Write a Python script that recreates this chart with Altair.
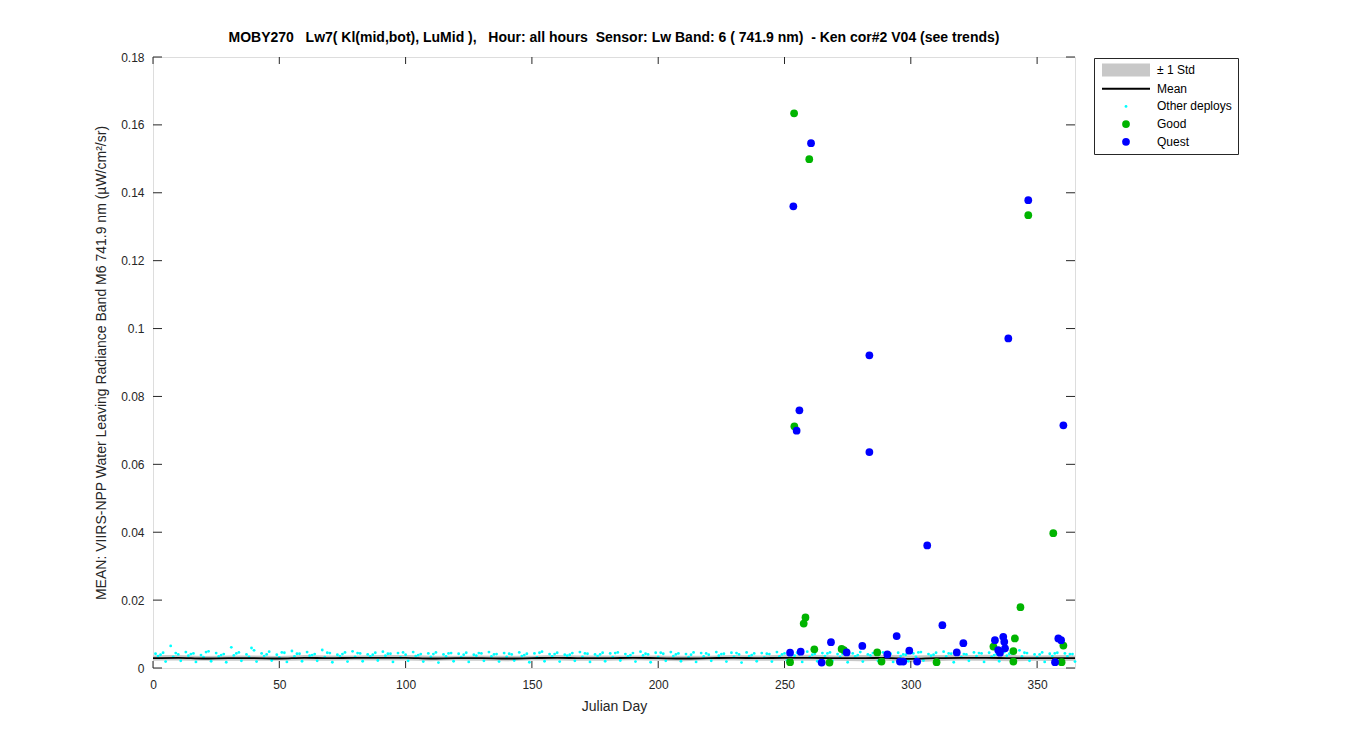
import altair as alt
import pandas as pd

# ---------------- data ----------------
title_text = ("MOBY270\u00a0\u00a0 Lw7( Kl(mid,bot), LuMid ),\u00a0\u00a0 Hour: all hours\u00a0 "
              "Sensor: Lw Band: 6 ( 741.9 nm)\u00a0 - Ken cor#2 V04 (see trends)")
y_title = "MEAN: VIIRS-NPP Water Leaving Radiance Band M6 741.9 nm (\u00b5W/cm\u00b2/sr)"
x_title = "Julian Day"

series_names = ["\u00b1 1 Std", "Mean", "Other deploys", "Good", "Quest"]
series_colors = ["#c8c8c8", "#000000", "#00ffff", "#00b400", "#0000ff"]

x_ticks = [0, 50, 100, 150, 200, 250, 300, 350]
y_ticks = [0, 0.02, 0.04, 0.06, 0.08, 0.1, 0.12, 0.14, 0.16, 0.18]

mean_days = [0, 10, 20, 30, 40, 50, 60, 70, 80, 90, 100, 110, 120, 130, 140, 150, 160, 170, 180,
             190, 200, 210, 220, 230, 240, 250, 260, 270, 280, 290, 300, 310, 320, 330, 340, 350,
             360, 365]
mean_vals = [0.0029, 0.0030, 0.0028, 0.0029, 0.0029, 0.0028, 0.0030, 0.0029, 0.0030, 0.0030,
             0.0030, 0.0028, 0.0029, 0.0029, 0.0028, 0.0029, 0.0030, 0.0029, 0.0029, 0.0030,
             0.0029, 0.0028, 0.0029, 0.0030, 0.0029, 0.0030, 0.0030, 0.0029, 0.0029, 0.0030,
             0.0027, 0.0029, 0.0030, 0.0030, 0.0029, 0.0029, 0.0029, 0.0029]
std_vals = [0.0008, 0.0008, 0.0007, 0.0008, 0.0008, 0.0007, 0.0008, 0.0008, 0.0007, 0.0008,
            0.0008, 0.0008, 0.0007, 0.0008, 0.0008, 0.0007, 0.0008, 0.0008, 0.0008, 0.0007,
            0.0008, 0.0008, 0.0007, 0.0008, 0.0008, 0.0009, 0.0009, 0.0008, 0.0009, 0.0009,
            0.0010, 0.0009, 0.0008, 0.0009, 0.0009, 0.0008, 0.0009, 0.0008]

other_days_upper = [1, 4, 7, 10, 13, 16, 19, 22, 25, 28, 31, 34, 37, 40, 43, 46, 49, 52, 55, 58,
                    61, 64, 67, 70, 73, 76, 79, 82, 85, 88, 91, 94, 97, 100, 103, 106, 109, 112,
                    115, 118, 121, 124, 127, 130, 133, 136, 139, 142, 145, 148, 151, 154, 157, 160,
                    163, 166, 169, 172, 175, 178, 181, 184, 187, 190, 193, 196, 199, 202, 205, 208,
                    211, 214, 217, 220, 223, 226, 229, 232, 235, 238, 241, 244, 247, 250, 253, 256,
                    259, 262, 265, 268, 271, 274, 277, 280, 283, 286, 289, 292, 295, 298, 301, 304,
                    307, 310, 313, 316, 319, 322, 325, 328, 331, 334, 337, 340, 343, 346, 349, 352,
                    355, 358, 361, 364]
other_vals_upper = [0.0042, 0.0045, 0.0065, 0.0040, 0.0047, 0.0043, 0.0038, 0.0049, 0.0044, 0.0041,
                    0.0061, 0.0046, 0.0040, 0.0052, 0.0043, 0.0048, 0.0039, 0.0045, 0.0050, 0.0042,
                    0.0047, 0.0041, 0.0053, 0.0044, 0.0039, 0.0046, 0.0049, 0.0043, 0.0040, 0.0045,
                    0.0048, 0.0042, 0.0044, 0.0039, 0.0047, 0.0041, 0.0043, 0.0046, 0.0040, 0.0044,
                    0.0042, 0.0045, 0.0039, 0.0043, 0.0047, 0.0041, 0.0044, 0.0040, 0.0046, 0.0042,
                    0.0043, 0.0048, 0.0041, 0.0045, 0.0039, 0.0044, 0.0047, 0.0042, 0.0040, 0.0045,
                    0.0043, 0.0046, 0.0041, 0.0044, 0.0048, 0.0040, 0.0045, 0.0042, 0.0047, 0.0043,
                    0.0041, 0.0046, 0.0044, 0.0039, 0.0047, 0.0042, 0.0045, 0.0040, 0.0046, 0.0043,
                    0.0044, 0.0041, 0.0047, 0.0043, 0.0045, 0.0040, 0.0048, 0.0042, 0.0044, 0.0046,
                    0.0041, 0.0045, 0.0043, 0.0047, 0.0040, 0.0044, 0.0046, 0.0042, 0.0045, 0.0039,
                    0.0043, 0.0047, 0.0041, 0.0045, 0.0048, 0.0042, 0.0044, 0.0040, 0.0046, 0.0043,
                    0.0045, 0.0041, 0.0047, 0.0043, 0.0052, 0.0044, 0.0040, 0.0046, 0.0042, 0.0045,
                    0.0043, 0.0041]

other_days_upper2 = [3, 9, 15, 21, 27, 33, 39, 45, 51, 57, 63, 69, 75, 81, 87, 93, 99, 105, 111,
                     117, 123, 129, 135, 141, 147, 153, 159, 165, 171, 177, 183, 189, 195, 201, 207,
                     213, 219, 225, 231, 237, 243, 249, 255, 261, 267, 273, 279, 285, 291, 297, 303,
                     309, 315, 321, 327, 333, 339, 345, 351, 357, 363]
other_vals_upper2 = [0.0039, 0.0044, 0.0041, 0.0047, 0.0038, 0.0043, 0.0059, 0.0040, 0.0046, 0.0042,
                     0.0038, 0.0045, 0.0041, 0.0044, 0.0039, 0.0042, 0.0046, 0.0038, 0.0041, 0.0043,
                     0.0039, 0.0044, 0.0040, 0.0042, 0.0038, 0.0045, 0.0041, 0.0039, 0.0043, 0.0040,
                     0.0044, 0.0038, 0.0042, 0.0045, 0.0040, 0.0039, 0.0043, 0.0041, 0.0044, 0.0038,
                     0.0042, 0.0040, 0.0045, 0.0039, 0.0043, 0.0041, 0.0038, 0.0044, 0.0042, 0.0040,
                     0.0046, 0.0039, 0.0043, 0.0041, 0.0044, 0.0038, 0.0042, 0.0045, 0.0040, 0.0043,
                     0.0041]

other_days_mid = [2, 8, 14, 20, 26, 32, 38, 44, 50, 56, 62, 68, 74, 80, 86, 92, 98, 104, 110, 116,
                  122, 128, 134, 140, 146, 152, 158, 164, 170, 176, 182, 188, 194, 200, 206, 212,
                  218, 224, 230, 236, 242, 248, 254, 260, 266, 272, 278, 284, 290, 296, 302, 308,
                  314, 320, 326, 332, 338, 344, 350, 356, 362]
other_vals_mid = [0.0035, 0.0033, 0.0036, 0.0032, 0.0034, 0.0037, 0.0033, 0.0035, 0.0031, 0.0034,
                  0.0036, 0.0032, 0.0035, 0.0033, 0.0034, 0.0036, 0.0031, 0.0035, 0.0033, 0.0034,
                  0.0032, 0.0036, 0.0034, 0.0033, 0.0035, 0.0031, 0.0034, 0.0036, 0.0033, 0.0035,
                  0.0032, 0.0034, 0.0037, 0.0033, 0.0035, 0.0032, 0.0034, 0.0036, 0.0033, 0.0035,
                  0.0031, 0.0034, 0.0036, 0.0032, 0.0035, 0.0033, 0.0034, 0.0037, 0.0032, 0.0035,
                  0.0033, 0.0036, 0.0034, 0.0032, 0.0035, 0.0033, 0.0036, 0.0034, 0.0032, 0.0035,
                  0.0034]

other_days_low = [5, 11, 17, 23, 29, 35, 41, 47, 53, 59, 65, 71, 77, 83, 89, 95, 101, 107, 113, 119,
                  125, 131, 137, 143, 149, 155, 161, 167, 173, 179, 185, 191, 197, 203, 209, 215,
                  221, 227, 233, 239, 245, 251, 257, 263, 269, 275, 281, 287, 293, 299, 305, 311,
                  317, 323, 329, 335, 341, 347, 353, 359, 365]
other_vals_low = [0.0019, 0.0021, 0.0018, 0.0020, 0.0017, 0.0021, 0.0019, 0.0022, 0.0018, 0.0020,
                  0.0021, 0.0017, 0.0019, 0.0020, 0.0022, 0.0018, 0.0021, 0.0019, 0.0016, 0.0020,
                  0.0018, 0.0021, 0.0019, 0.0022, 0.0017, 0.0020, 0.0019, 0.0021, 0.0018, 0.0020,
                  0.0022, 0.0019, 0.0017, 0.0021, 0.0020, 0.0018, 0.0021, 0.0019, 0.0016, 0.0020,
                  0.0019, 0.0022, 0.0018, 0.0020, 0.0021, 0.0017, 0.0019, 0.0021, 0.0018, 0.0020,
                  0.0022, 0.0019, 0.0017, 0.0021, 0.0018, 0.0020, 0.0019, 0.0021, 0.0018, 0.0020,
                  0.0019]

good_days = [253.8, 259.8, 253.9, 356.4, 343.4, 258.3, 257.6, 346.5, 261.8, 272.6, 273.5, 286.7,
             252.2, 267.8, 341.2, 332.7, 340.6, 310.2, 360.4, 359.7, 340.6, 288.4]
good_vals = [0.1634, 0.1499, 0.0712, 0.0397, 0.0179, 0.0149, 0.0131, 0.1334, 0.0055, 0.0056,
             0.0053, 0.0046, 0.0017, 0.0016, 0.0087, 0.0063, 0.0050, 0.0017, 0.0066, 0.0017,
             0.0019, 0.0019]

quest_days = [260.5, 253.5, 346.5, 283.6, 338.6, 255.9, 254.8, 283.6, 360.4, 306.5, 312.5, 268.4,
              280.8, 294.4, 299.4, 252.2, 256.4, 274.6, 264.7, 290.7, 295.7, 302.5, 320.8, 333.3,
              336.6, 337.0, 334.6, 337.3, 318.2, 358.4, 359.5, 357.1, 297.0, 335.3]
quest_vals = [0.1546, 0.1360, 0.1378, 0.0921, 0.0971, 0.0759, 0.0699, 0.0636, 0.0715, 0.0361,
              0.0126, 0.0076, 0.0065, 0.0094, 0.0051, 0.0045, 0.0048, 0.0046, 0.0016, 0.0040,
              0.0019, 0.0019, 0.0073, 0.0082, 0.0092, 0.0077, 0.0053, 0.0058, 0.0046, 0.0087,
              0.0082, 0.0017, 0.0019, 0.0045]

# ---------------- tables ----------------
mean_df = pd.DataFrame({"day": mean_days, "mean": mean_vals, "std": std_vals})
other_df = pd.DataFrame({
    "day": other_days_upper + other_days_upper2 + other_days_mid + other_days_low,
    "val": other_vals_upper + other_vals_upper2 + other_vals_mid + other_vals_low,
    "series": "Other deploys",
})
gq_df = pd.concat([
    pd.DataFrame({"day": good_days, "val": good_vals, "series": "Good"}),
    pd.DataFrame({"day": quest_days, "val": quest_vals, "series": "Quest"}),
], ignore_index=True)
xt_df = pd.DataFrame({"t": x_ticks})
yt_df = pd.DataFrame({"t": y_ticks})

# ---------------- layout / style ----------------
W, H = 922, 611
FONT = "Liberation Sans"
TXT = "#262626"

xscale = alt.Scale(domain=[0, 365], nice=False, zero=False)
yscale = alt.Scale(domain=[0, 0.18], nice=False, zero=False)

xaxis = alt.Axis(values=x_ticks, format="d", title=x_title, ticks=False, domain=False, grid=False,
                 labelFlush=False, labelPadding=11, labelFontSize=12, labelColor=TXT, labelFont=FONT,
                 titleFont=FONT, titleFontSize=14, titleFontWeight="normal", titleColor=TXT,
                 titlePadding=9)
yaxis = alt.Axis(values=y_ticks, format="~g", title=y_title, ticks=False, domain=False, grid=False,
                 labelFlush=False, labelPadding=9, labelFontSize=12, labelColor=TXT, labelFont=FONT,
                 titleFont=FONT, titleFontSize=14, titleFontWeight="normal", titleColor=TXT,
                 titlePadding=12)

shape_range = ["M-6,-1.6H6V1.6H-6Z", "M-6,-0.26H6V0.26H-6Z", "circle", "circle", "circle"]
size_range = [64, 64, 8, 60, 60]

legend = alt.Legend(title=None, orient="none", legendX=941, legendY=1, direction="vertical",
                    labelFont=FONT, labelFontSize=12, labelColor="#000000", padding=6,
                    strokeColor=TXT, fillColor="white", symbolStrokeWidth=0,
                    symbolOffset=20, labelOffset=25, rowPadding=5.7)

color_enc = alt.Color("series:N", scale=alt.Scale(domain=series_names, range=series_colors),
                      legend=legend)
shape_enc = alt.Shape("series:N", scale=alt.Scale(domain=series_names, range=shape_range),
                      legend=legend)
size_enc = alt.Size("series:N", scale=alt.Scale(type="ordinal", domain=series_names, range=size_range),
                    legend=legend)

band = alt.Chart(mean_df).transform_calculate(
    lo="datum.mean - datum.std", hi="datum.mean + datum.std"
).mark_area(color="#c8c8c8", interpolate="monotone").encode(
    x=alt.X("day:Q", scale=xscale, axis=xaxis),
    y=alt.Y("lo:Q", scale=yscale, axis=yaxis),
    y2="hi:Q",
)

other_pts = alt.Chart(other_df).mark_point(filled=True, opacity=1).encode(
    x=alt.X("day:Q", scale=xscale),
    y=alt.Y("val:Q", scale=yscale),
    color=color_enc, shape=shape_enc, size=size_enc,
)

mean_line = alt.Chart(mean_df).mark_line(color="#000000", strokeWidth=1.8,
                                         interpolate="monotone").encode(
    x=alt.X("day:Q", scale=xscale),
    y=alt.Y("mean:Q", scale=yscale),
)

gq_pts = alt.Chart(gq_df).mark_point(filled=True, opacity=1).encode(
    x=alt.X("day:Q", scale=xscale),
    y=alt.Y("val:Q", scale=yscale),
    color=color_enc, shape=shape_enc, size=size_enc,
)

TICKC = "#262626"
xt_bottom = alt.Chart(xt_df).mark_rule(color=TICKC, strokeWidth=1).encode(
    x=alt.X("t:Q", scale=xscale), y=alt.value(H), y2=alt.value(H - 7))
xt_top = alt.Chart(xt_df).mark_rule(color=TICKC, strokeWidth=1).encode(
    x=alt.X("t:Q", scale=xscale), y=alt.value(0), y2=alt.value(7))
yt_left = alt.Chart(yt_df).mark_rule(color=TICKC, strokeWidth=1).encode(
    y=alt.Y("t:Q", scale=yscale), x=alt.value(0), x2=alt.value(9))
yt_right = alt.Chart(yt_df).mark_rule(color=TICKC, strokeWidth=1).encode(
    y=alt.Y("t:Q", scale=yscale), x=alt.value(W), x2=alt.value(W - 9))

chart = alt.layer(
    band, other_pts, mean_line, gq_pts, xt_bottom, xt_top, yt_left, yt_right
).properties(
    width=W, height=H,
    title=alt.TitleParams(text=title_text, font=FONT, fontSize=14, fontWeight="bold",
                          color="#000000", anchor="middle", frame="group", offset=6),
    autosize=alt.AutoSizeParams(type="none"),
    padding={"left": 145, "top": 49, "right": 260, "bottom": 70},
).configure_view(
    stroke=TXT, strokeWidth=1
).configure(background="white")

chart.save("out.html", embed_options={"renderer": "svg", "actions": False})
